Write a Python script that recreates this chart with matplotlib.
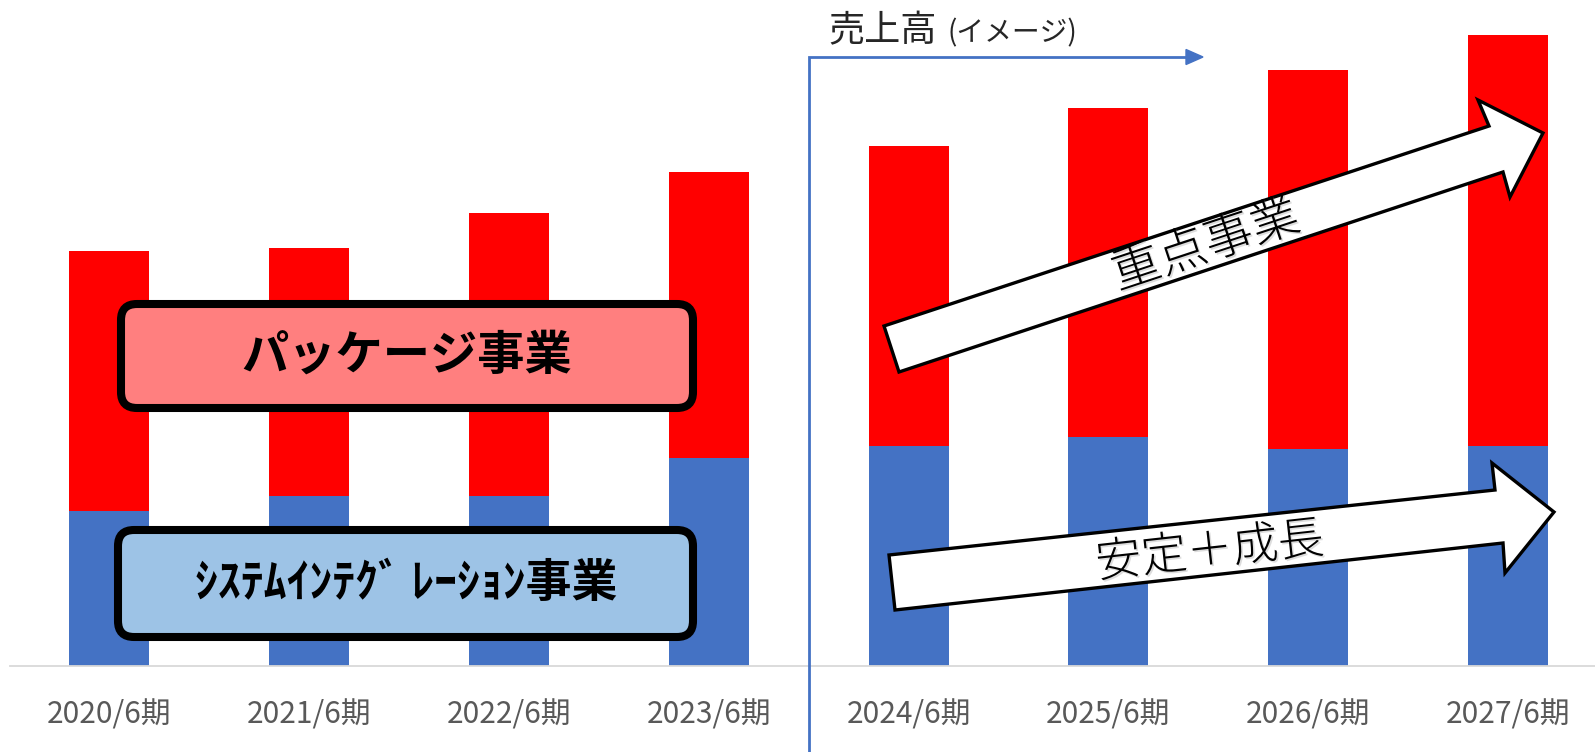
import matplotlib
matplotlib.use("Agg")
import matplotlib.pyplot as plt
from matplotlib.patches import Polygon, FancyBboxPatch
import matplotlib.patheffects as pe

plt.rcParams['font.family'] = ['Noto Sans CJK JP', 'DejaVu Sans']

# ---- data (arbitrary units) ----
categories = ['2020/6期', '2021/6期', '2022/6期', '2023/6期',
              '2024/6期', '2025/6期', '2026/6期', '2027/6期']
system_integration = [155, 170, 170, 208, 220, 229, 217, 220]
package_business = [260, 248, 283, 286, 300, 329, 379, 411]

label_pkg = 'パッケージ事業'
label_si = 'ｼｽﾃﾑｲﾝﾃｸﾞ ﾚｰｼｮﾝ事業'
label_title = '売上高'
label_title_sub = '(イメージ)'
label_focus = '重点事業'
label_stable = '安定＋成長'

RED = '#FF0000'
BLUE = '#4472C4'

W, H = 1595, 752
fig = plt.figure(figsize=(W / 100, H / 100), dpi=100)

# main axes: baseline at y=666px from top
left_px, base_px = 9.5, 666
ax = fig.add_axes([left_px / W, 1 - base_px / H, (W - left_px) / W, base_px / H])
x = list(range(len(categories)))
ax.bar(x, system_integration, width=0.4, color=BLUE, zorder=2)
ax.bar(x, package_business, width=0.4, bottom=system_integration, color=RED, zorder=2)
spacing = 199.8
ax.set_xlim(-0.5, (W - left_px) / spacing - 0.5)
ax.set_ylim(0, base_px)
ax.set_xticks(x)
ax.set_xticklabels(categories, fontsize=21.5, color='#595959')
ax.tick_params(axis='x', length=0, pad=24)
ax.set_yticks([])
for s in ['top', 'right', 'left']:
    ax.spines[s].set_visible(False)
ax.spines['bottom'].set_color('#D9D9D9')
ax.spines['bottom'].set_linewidth(1.3)

# overlay axes in pixel coordinates
ov = fig.add_axes([0, 0, 1, 1], zorder=5)
ov.set_xlim(0, W)
ov.set_ylim(H, 0)
ov.axis('off')
ov.patch.set_visible(False)

# blue L-shaped marker line with arrow
ov.plot([809, 809, 1188], [H, 57, 57], color=BLUE, lw=2.0, solid_joinstyle='miter')
ov.add_patch(Polygon([[1186, 49.5], [1203, 57], [1186, 64.5]], closed=True,
                     facecolor=BLUE, edgecolor=BLUE, lw=1))
ov.text(828, 31, label_title, fontsize=26, color='#262626', ha='left', va='center')
ov.text(947, 33, label_title_sub, fontsize=20, color='#262626', ha='left', va='center')

# rounded boxes
def rbox(x0, y0, x1, y1, fc):
    p = FancyBboxPatch((x0, y0), x1 - x0, y1 - y0,
                       boxstyle='round,pad=0,rounding_size=16',
                       facecolor=fc, edgecolor='black', lw=5.8)
    ov.add_patch(p)

rbox(121, 304, 693, 408, '#FF7F7F')
rbox(118, 530, 693, 637, '#9DC3E6')
ov.text(407, 356, label_pkg, fontsize=34, fontweight='bold', color='black',
        ha='center', va='center')
ov.text(406, 584, label_si, fontsize=33, fontweight='bold', color='black',
        ha='center', va='center')

# white block arrows
arrow1 = [[884, 326], [1489, 126], [1478, 100], [1543, 133],
          [1510, 197], [1503, 172], [899, 372]]
arrow2 = [[889, 555], [1495, 490], [1492, 463], [1554, 512],
          [1505, 573], [1503, 543], [895, 610]]
for pts in (arrow1, arrow2):
    ov.add_patch(Polygon(pts, closed=True, facecolor='white', edgecolor='black',
                         lw=2.4, joinstyle='miter'))

shadow = [pe.withSimplePatchShadow(offset=(1.2, -1.2), shadow_rgbFace='#a0a0a0', alpha=0.35)]
ov.text(1206, 246, label_focus, fontsize=35, color='black', rotation=18.3,
        fontweight='light', rotation_mode='anchor', ha='center', va='center',
        path_effects=shadow)
ov.text(1210, 552, label_stable, fontsize=33, color='black', rotation=6.3,
        fontweight='light', rotation_mode='anchor', ha='center', va='center',
        path_effects=shadow)

fig.savefig('out.png', dpi=100)
